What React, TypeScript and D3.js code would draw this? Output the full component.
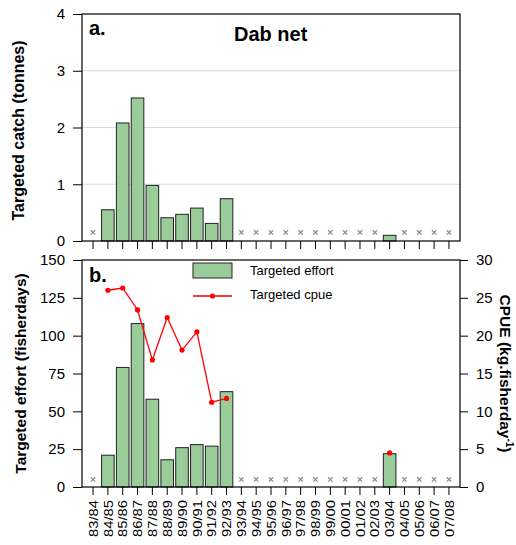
import { useEffect, useRef } from "react";
import * as d3 from "d3";

const seasons = [
  "83/84", "84/85", "85/86", "86/87", "87/88", "88/89", "89/90", "90/91",
  "91/92", "92/93", "93/94", "94/95", "95/96", "96/97", "97/98", "98/99",
  "99/00", "00/01", "01/02", "02/03", "03/04", "04/05", "05/06", "06/07", "07/08",
];

// targeted catch (tonnes), null = no fishing
const catchTonnes = [
  null, 0.55, 2.08, 2.52, 0.98, 0.41, 0.47, 0.58, 0.31, 0.745,
  null, null, null, null, null, null, null, null, null, null,
  0.1, null, null, null, null,
];

// targeted effort (fisherdays)
const effortDays = [
  null, 21, 79, 108, 58, 18, 26, 28, 27, 63,
  null, null, null, null, null, null, null, null, null, null,
  22, null, null, null, null,
];

// cpue (kg per fisherday)
const cpueKg = [
  null, 26.0, 26.3, 23.4, 16.8, 22.4, 18.1, 20.5, 11.2, 11.7,
  null, null, null, null, null, null, null, null, null, null,
  4.5, null, null, null, null,
];

const catchTicks = [0, 1, 2, 3, 4];
const effortTicks = [0, 25, 50, 75, 100, 125, 150];
const cpueTicks = [0, 5, 10, 15, 20, 25, 30];
const legendLabels = ["Targeted effort", "Targeted cpue"];

const FONT = "'Liberation Sans', Arial, Helvetica, sans-serif";
const BAR_FILL = "#99cc99";
const LINE_RED = "#ff0000";

export default function App() {
  const svgRef = useRef<SVGSVGElement>(null);

  useEffect(() => {
    const svg = d3.select(svgRef.current);
    svg.selectAll("*").remove();
    svg.attr("font-family", FONT);

    const left = 82, right = 460;
    const aTop = 14, aBot = 241, bTop = 260, bBot = 487;

    const x = d3.scaleBand<string>().domain(seasons).range([left, right])
      .paddingInner(0.15).paddingOuter(0.32);
    const cx = (s: string) => (x(s) as number) + x.bandwidth() / 2;

    const yA = d3.scaleLinear().domain([0, 4]).range([aBot, aTop]);
    const yB = d3.scaleLinear().domain([0, 150]).range([bBot, bTop]);
    const yC = d3.scaleLinear().domain([0, 30]).range([bBot, bTop]);

    svg.append("rect").attr("width", 516).attr("height", 545).attr("fill", "#fff");

    // ---- panel a ----
    svg.append("g").selectAll("line").data([1, 2, 3]).enter().append("line")
      .attr("x1", left).attr("x2", right)
      .attr("y1", (d) => yA(d)).attr("y2", (d) => yA(d))
      .attr("stroke", "#d9d9d9").attr("stroke-width", 1.2);

    const drawMissing = (g: any, vals: (number | null)[], y: number) => {
      seasons.forEach((s, i) => {
        if (vals[i] != null) return;
        const px = cx(s), h = 2.2;
        g.append("path")
          .attr("d", `M${px - h},${y - h}L${px + h},${y + h}M${px - h},${y + h}L${px + h},${y - h}`)
          .attr("stroke", "#8c8c8c").attr("stroke-width", 1.2);
      });
    };

    const gA = svg.append("g");
    gA.selectAll("rect").data(seasons.filter((_, i) => catchTonnes[i] != null)).enter()
      .append("rect")
      .attr("x", (s) => x(s) as number)
      .attr("width", x.bandwidth())
      .attr("y", (s) => yA(catchTonnes[seasons.indexOf(s)] as number))
      .attr("height", (s) => aBot - yA(catchTonnes[seasons.indexOf(s)] as number))
      .attr("fill", BAR_FILL).attr("stroke", "#222").attr("stroke-width", 1);
    drawMissing(gA, catchTonnes, yA(0.15));

    const axA = svg.append("g").attr("transform", `translate(${left},0)`)
      .call(d3.axisLeft(yA).tickValues(catchTicks).tickFormat(d3.format("d")).tickSize(9).tickPadding(8));
    axA.select(".domain").remove();
    axA.attr("font-size", 15).attr("font-family", FONT);

    const axAx = svg.append("g").attr("transform", `translate(0,${aBot})`)
      .call(d3.axisBottom(x).tickSize(8).tickFormat(() => ""));
    axAx.select(".domain").remove();

    svg.append("rect").attr("x", left).attr("y", aTop)
      .attr("width", right - left).attr("height", aBot - aTop)
      .attr("fill", "none").attr("stroke", "#000").attr("stroke-width", 1.2);

    svg.append("text").attr("x", 89).attr("y", 35)
      .attr("font-size", 20).attr("font-weight", "bold").text("a.");
    svg.append("text").attr("x", 234).attr("y", 41)
      .attr("font-size", 20).attr("font-weight", "bold").text("Dab net");

    svg.append("text")
      .attr("transform", `translate(23.5,${(aTop + aBot) / 2 + 3}) rotate(-90)`)
      .attr("text-anchor", "middle").attr("font-size", 16).attr("font-weight", "bold")
      .text("Targeted catch (tonnes)");

    // ---- panel b ----
    const gB = svg.append("g");
    gB.selectAll("rect").data(seasons.filter((_, i) => effortDays[i] != null)).enter()
      .append("rect")
      .attr("x", (s) => x(s) as number)
      .attr("width", x.bandwidth())
      .attr("y", (s) => yB(effortDays[seasons.indexOf(s)] as number))
      .attr("height", (s) => bBot - yB(effortDays[seasons.indexOf(s)] as number))
      .attr("fill", BAR_FILL).attr("stroke", "#222").attr("stroke-width", 1);
    drawMissing(gB, effortDays, yB(5));

    const line = d3.line<number | null>()
      .defined((d) => d != null)
      .x((_, i) => cx(seasons[i]))
      .y((d) => yC(d as number));
    svg.append("path").datum(cpueKg).attr("d", line)
      .attr("fill", "none").attr("stroke", LINE_RED).attr("stroke-width", 1.3);
    svg.append("g").selectAll("circle")
      .data(seasons.filter((_, i) => cpueKg[i] != null)).enter().append("circle")
      .attr("cx", (s) => cx(s))
      .attr("cy", (s) => yC(cpueKg[seasons.indexOf(s)] as number))
      .attr("r", 2.6).attr("fill", LINE_RED);

    const axB = svg.append("g").attr("transform", `translate(${left},0)`)
      .call(d3.axisLeft(yB).tickValues(effortTicks).tickSize(9).tickPadding(8));
    axB.select(".domain").remove();
    axB.attr("font-size", 15).attr("font-family", FONT);

    const axC = svg.append("g").attr("transform", `translate(${right},0)`)
      .call(d3.axisRight(yC).tickValues(cpueTicks).tickSize(8).tickPadding(8));
    axC.select(".domain").remove();
    axC.attr("font-size", 15).attr("font-family", FONT);

    const axBx = svg.append("g").attr("transform", `translate(0,${bBot})`)
      .call(d3.axisBottom(x).tickSize(8).tickPadding(5));
    axBx.select(".domain").remove();
    axBx.attr("font-size", 13).attr("font-family", FONT);
    axBx.selectAll("text")
      .attr("transform", "rotate(-90)")
      .attr("x", -13).attr("y", 0).attr("dy", "0.36em")
      .attr("text-anchor", "end")
      .attr("textLength", 37).attr("lengthAdjust", "spacingAndGlyphs");

    svg.append("rect").attr("x", left).attr("y", bTop)
      .attr("width", right - left).attr("height", bBot - bTop)
      .attr("fill", "none").attr("stroke", "#000").attr("stroke-width", 1.2);

    svg.append("text").attr("x", 89).attr("y", 282)
      .attr("font-size", 20).attr("font-weight", "bold").text("b.");

    // legend
    const lg = svg.append("g").attr("font-size", 13);
    lg.append("rect").attr("x", 193).attr("y", 263).attr("width", 39).attr("height", 15)
      .attr("fill", BAR_FILL).attr("stroke", "#222").attr("stroke-width", 1);
    lg.append("text").attr("x", 250).attr("y", 275).text(legendLabels[0]);
    lg.append("line").attr("x1", 193).attr("x2", 232).attr("y1", 296).attr("y2", 296)
      .attr("stroke", LINE_RED).attr("stroke-width", 1.3);
    lg.append("circle").attr("cx", 212.5).attr("cy", 296).attr("r", 2.6).attr("fill", LINE_RED);
    lg.append("text").attr("x", 250).attr("y", 299).text(legendLabels[1]);

    svg.append("text")
      .attr("transform", `translate(26,${(bTop + bBot) / 2}) rotate(-90)`)
      .attr("text-anchor", "middle").attr("font-size", 15.5).attr("font-weight", "bold")
      .text("Targeted effort (fisherdays)");

    const rt = svg.append("text")
      .attr("transform", `translate(500,${(bTop + bBot) / 2}) rotate(90)`)
      .attr("text-anchor", "middle").attr("font-size", 15.5).attr("font-weight", "bold");
    rt.append("tspan").text("CPUE (kg.fisherday");
    rt.append("tspan").attr("font-size", 10).attr("dy", -6).text("-1");
    rt.append("tspan").attr("dy", 6).text(")");
  }, []);

  return (
    <svg
      ref={svgRef}
      width={516}
      height={545}
      style={{ position: "absolute", left: 0, top: 0 }}
    />
  );
}
